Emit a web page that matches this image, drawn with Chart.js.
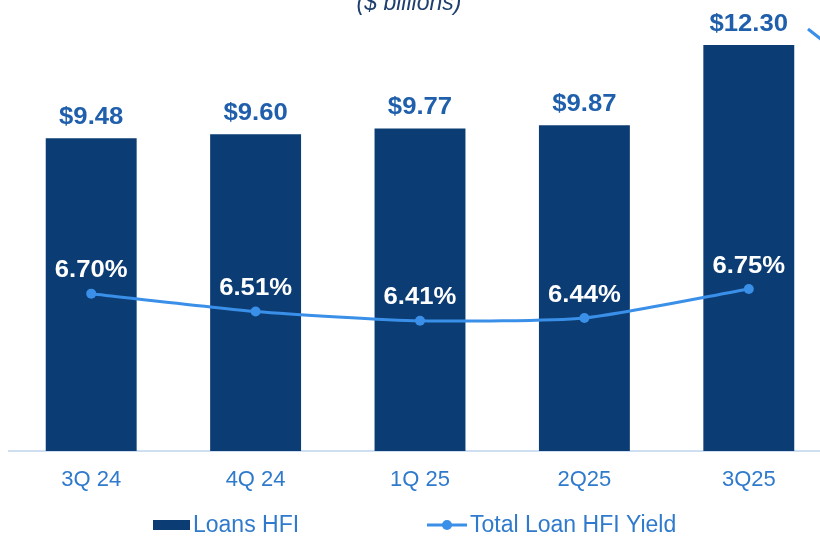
<!DOCTYPE html>
<html>
<head>
<meta charset="utf-8">
<script src="https://cdn.jsdelivr.net/npm/chart.js@4/dist/chart.umd.min.js"></script>
<style>
  html, body { margin: 0; padding: 0; background: #ffffff; overflow: hidden; width: 820px; height: 538px; }
  #wrap { position: absolute; left: 0; top: 0; width: 840px; height: 538px; }
</style>
</head>
<body>
<div id="wrap"><canvas id="c" width="840" height="538"></canvas></div>
<script>
// Quarterly loans held for investment and their total yield
const quarters = ['3Q 24', '4Q 24', '1Q 25', '2Q25', '3Q25'];
const loansHFI = [9.48, 9.60, 9.77, 9.87, 12.30];      // $ billions
const loanYield = [6.70, 6.51, 6.41, 6.44, 6.75];      // percent
const seriesNames = ['Loans HFI', 'Total Loan HFI Yield'];
const unitsNote = '($ billions)';

const NAVY = '#0b3c74';
const LINE_BLUE = '#3a8fe8';
const LABEL_BLUE = '#1f5fab';
const TICK_BLUE = '#2f7acc';
const FONT = '"Liberation Sans", Arial, sans-serif';

// draws text stretched horizontally around its centre
function wideText(ctx, text, x, y, sx) {
  ctx.save();
  ctx.translate(x, y);
  ctx.scale(sx, 1);
  ctx.fillText(text, 0, 0);
  ctx.restore();
}

const valueLabels = {
  id: 'valueLabels',
  afterDatasetsDraw(chart) {
    const ctx = chart.ctx;
    ctx.save();
    ctx.textAlign = 'center';
    ctx.textBaseline = 'middle';
    ctx.font = 'bold 24px ' + FONT;

    ctx.fillStyle = LABEL_BLUE;
    chart.getDatasetMeta(0).data.forEach((el, i) => {
      wideText(ctx, '$' + loansHFI[i].toFixed(2), el.x, el.y - 21, 1.07);
    });

    ctx.fillStyle = '#ffffff';
    chart.getDatasetMeta(1).data.forEach((el, i) => {
      wideText(ctx, loanYield[i].toFixed(2) + '%', el.x, el.y - 23, 1.07);
    });
    ctx.restore();
  }
};

const notesAndLegend = {
  id: 'notesAndLegend',
  afterDraw(chart) {
    const ctx = chart.ctx;
    ctx.save();
    // units note, partly above the top edge
    ctx.fillStyle = '#1f3f6e';
    ctx.font = 'italic 23px ' + FONT;
    ctx.textAlign = 'center';
    ctx.textBaseline = 'alphabetic';
    ctx.fillText(unitsNote, 409, 10);

    // connector arrow stub at the top-right edge
    ctx.strokeStyle = LINE_BLUE;
    ctx.lineWidth = 3;
    ctx.beginPath();
    ctx.moveTo(808, 29);
    ctx.lineTo(822, 40);
    ctx.stroke();

    // legend
    const ly = 525;
    ctx.textAlign = 'left';
    ctx.textBaseline = 'middle';
    ctx.font = '23px ' + FONT;

    ctx.fillStyle = NAVY;
    ctx.fillRect(153, ly - 5, 37, 10);
    ctx.fillStyle = TICK_BLUE;
    ctx.fillText(seriesNames[0], 193, ly + 1);

    ctx.strokeStyle = LINE_BLUE;
    ctx.lineWidth = 3;
    ctx.beginPath();
    ctx.moveTo(427, ly);
    ctx.lineTo(467, ly);
    ctx.stroke();
    ctx.fillStyle = LINE_BLUE;
    ctx.beginPath();
    ctx.arc(447, ly, 5, 0, Math.PI * 2);
    ctx.fill();
    ctx.fillStyle = TICK_BLUE;
    ctx.fillText(seriesNames[1], 470, ly + 1);
    ctx.restore();
  }
};

new Chart(document.getElementById('c'), {
  data: {
    labels: quarters,
    datasets: [
      {
        type: 'bar',
        label: seriesNames[0],
        data: loansHFI,
        backgroundColor: NAVY,
        borderWidth: 0,
        categoryPercentage: 1,
        barPercentage: 0.553,
        yAxisID: 'y',
        order: 2
      },
      {
        type: 'line',
        label: seriesNames[1],
        data: loanYield,
        borderColor: LINE_BLUE,
        backgroundColor: LINE_BLUE,
        borderWidth: 3,
        pointRadius: 5,
        pointHoverRadius: 5,
        pointBackgroundColor: LINE_BLUE,
        pointBorderWidth: 0,
        tension: 0.2,
        yAxisID: 'y1',
        order: 1
      }
    ]
  },
  options: {
    responsive: false,
    animation: false,
    events: [],
    layout: { padding: { left: 9, right: 9, top: 22, bottom: 0 } },
    plugins: {
      legend: { display: false },
      tooltip: { enabled: false }
    },
    scales: {
      x: {
        grid: { display: false, drawTicks: false },
        border: { display: true, color: '#cfdff2', width: 2 },
        ticks: {
          color: TICK_BLUE,
          font: { family: FONT, size: 22 },
          padding: 16,
          maxRotation: 0
        },
        afterFit(scale) { scale.height = 87; }
      },
      y: { display: false, min: 0, max: 13 },
      y1: { display: false, position: 'right', min: 5.02, max: 9.6 }
    }
  },
  plugins: [valueLabels, notesAndLegend]
});
</script>
</body>
</html>
